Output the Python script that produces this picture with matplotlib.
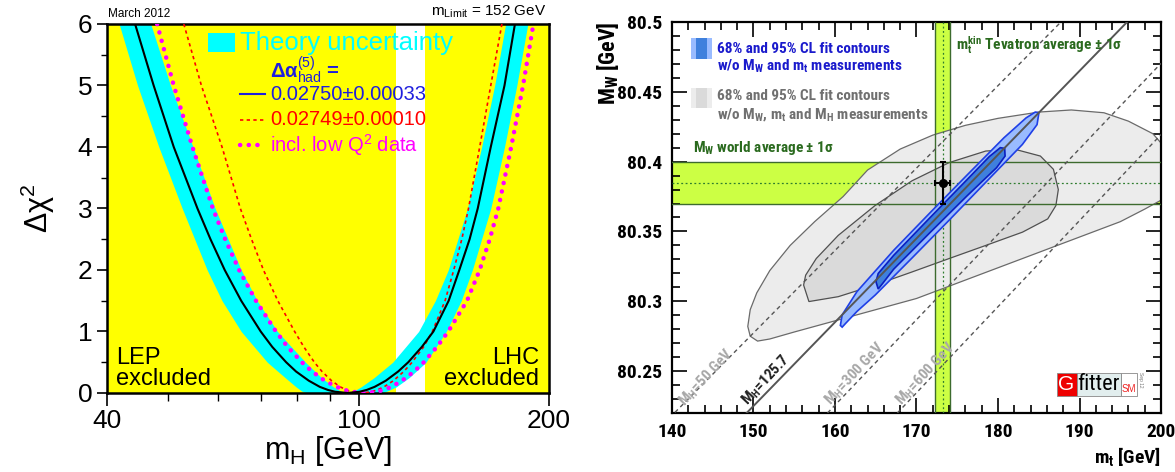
import matplotlib
matplotlib.use("Agg")
import numpy as np
import matplotlib.pyplot as plt
from matplotlib import font_manager
from matplotlib.patches import Polygon, Rectangle
from matplotlib.ticker import FixedLocator, FixedFormatter, NullFormatter

# ---------------- data: left panel (delta chi2 vs mH) ----------------
curve_levels = [0, 0.02, 0.05, 0.1, 0.2, 0.35, 0.5, 0.75, 1, 1.5, 2, 2.5, 3, 4, 5, 6]
central_left = [96.0, 91.8, 89.4, 86.8, 83.4, 79.6, 76.8, 73.0, 70.0, 65.2, 61.4, 58.3, 55.6, 51.0, 47.4, 44.3]
central_right = [96.0, 100.3, 103.0, 106.0, 110.4, 115.5, 119.8, 125.9, 131.3, 138.8, 144.3, 149.8, 154.3, 161.8, 170.1, 176.7]
red_left = [100.9, 97.5, 95.6, 93.5, 90.6, 87.5, 85.1, 81.9, 79.2, 74.5, 70.7, 67.7, 65.0, 60.8, 56.4, 52.9]
red_right = [100.9, 104.7, 107.0, 109.7, 113.5, 117.9, 121.5, 126.7, 130.8, 137.0, 141.4, 145.6, 149.2, 155.4, 161.8, 168.5]
magenta_left = [102.3, 97.7, 95.1, 92.3, 88.4, 84.4, 81.3, 77.2, 74.0, 68.8, 64.7, 61.5, 58.8, 54.6, 51.0, 48.0]
magenta_right = [102.3, 106.8, 109.5, 112.6, 117.1, 122.4, 126.8, 133.0, 138.6, 148.4, 155.4, 161.2, 166.3, 174.3, 182.0, 189.0]

band_levels = [0, 0.03, 0.1, 0.25, 0.5, 1, 1.5, 2, 3, 4, 5, 6]
band_left_outer = [83.0, 81.3, 79.6, 76.5, 71.7, 65.2, 60.8, 57.6, 52.6, 48.3, 44.7, 41.8]
band_left_inner = [96.0, 93.7, 91.2, 87.3, 82.4, 74.4, 69.1, 65.2, 59.3, 54.7, 50.4, 46.9]
band_right_inner = [96.0, 98.2, 100.9, 105.8, 113.2, 124.4, 132.2, 138.6, 148.6, 156.5, 164.1, 170.8]
band_right_outer = [108.7, 110.9, 114.7, 120.2, 127.8, 137.6, 145.3, 151.3, 161.8, 170.1, 177.9, 185.2]
lep_limit = 114.4
lhc_limit = 127.5

# ---------------- data: right panel (MW vs mt) ----------------
mt_avg, mt_err = 173.2, 0.9
mw_avg, mw_err = 80.385, 0.015

grey95_mt = [149.3, 149.6, 150.4, 152, 154.5, 157.5, 161, 164, 168, 172, 176, 180, 185, 189, 193,
             196, 199, 202, 202, 200.5, 198, 195, 190, 185, 180, 175, 170, 165, 160, 155, 152,
             150.5, 149.6]
grey95_mw = [80.282, 80.294, 80.306, 80.322, 80.340, 80.357, 80.375, 80.394, 80.409, 80.419,
             80.426, 80.431, 80.4355, 80.437, 80.435, 80.429, 80.420, 80.40, 80.385, 80.374,
             80.366, 80.357, 80.346, 80.335, 80.324, 80.313, 80.302, 80.294, 80.286, 80.278,
             80.273, 80.2715, 80.275]
grey68_mt = [156.15, 156.4, 157.7, 160.4, 164.9, 169.45, 174.0, 178.5, 182.1, 185.2, 186.8, 187.4,
             187.1, 186.1, 183.0, 178.5, 174.0, 169.45, 164.9, 160.4, 156.8]
grey68_mw = [80.3116, 80.3187, 80.3306, 80.3472, 80.3685, 80.3863, 80.3993, 80.4076, 80.4088,
             80.404, 80.3945, 80.380, 80.3685, 80.359, 80.3495, 80.340, 80.3306, 80.321, 80.3116,
             80.3033, 80.2998]
blue95_mt = [160.66, 160.88, 162.69, 167.20, 171.71, 176.22, 180.73, 183.44, 184.57, 185.02,
             184.79, 182.99, 178.48, 173.96, 169.45, 164.94, 162.69, 161.34, 160.88]
blue95_mw = [80.2827, 80.2903, 80.3069, 80.3365, 80.3637, 80.3905, 80.4171, 80.4313, 80.4355,
             80.4350, 80.4265, 80.4123, 80.3851, 80.3578, 80.3310, 80.3045, 80.2927, 80.2844, 80.2815]
blue68_mt = [165.03, 165.30, 167.20, 171.71, 176.22, 178.93, 180.28, 180.82, 180.87, 179.83,
             176.22, 171.71, 167.20, 165.85, 165.30]
blue68_mw = [80.3140, 80.3199, 80.3329, 80.3602, 80.3872, 80.4036, 80.4100, 80.4095, 80.4040,
             80.3957, 80.3756, 80.3495, 80.3230, 80.3128, 80.3088]

mh_labels = ["50 GeV", "125.7", "300 GeV", "600 GeV"]
mh_mt_start = [140.36, 149.16, 159.08, 167.65]
mh_mw_start = [80.2204, 80.22, 80.22, 80.22]
mh_mt_end = [187.72, 195.84, 200.0, 200.0]
mh_mw_end = [80.5, 80.5, 80.4704, 80.4194]
mh_label_mt = [144.2, 151.6, 162.5, 171.1]
mh_label_mw = [80.2455, 80.2433, 80.248, 80.248]

# ---------------- fonts ----------------
avail = {f.name for f in font_manager.fontManager.ttflist}
SANS = "Liberation Sans" if "Liberation Sans" in avail else "DejaVu Sans"
NARROW = SANS
for cand in ["Liberation Sans Narrow", "Roboto Condensed", "Open Sans Condensed"]:
    if cand in avail:
        NARROW = cand
        break
k = 1.0 if NARROW != SANS else 0.86   # shrink text when no condensed face exists

plt.rcParams["font.family"] = [SANS, "DejaVu Sans"]
plt.rcParams["mathtext.fontset"] = "custom"
plt.rcParams["mathtext.rm"] = SANS
plt.rcParams["mathtext.it"] = SANS + ":italic"
plt.rcParams["mathtext.bf"] = NARROW + ":bold"

fig = plt.figure(figsize=(11.75, 4.72), dpi=100)
ax1 = fig.add_axes([0.0911, 0.1674, 0.3761, 0.7818])
ax2 = fig.add_axes([0.5719, 0.1250, 0.4162, 0.8284])

# ================= left panel =================
ax1.set_xscale("log")
ax1.axvspan(40, lep_limit, color="#ffff00", lw=0, zorder=0)
ax1.axvspan(lhc_limit, 200, color="#ffff00", lw=0, zorder=0)
ax1.fill_betweenx(band_levels, band_left_outer, band_left_inner, color="#00ffff", lw=0, zorder=1)
ax1.fill_betweenx(band_levels, band_right_inner, band_right_outer, color="#00ffff", lw=0, zorder=1)


def branch(left, right):
    xs = list(reversed(left)) + right[1:]
    ys = list(reversed(curve_levels)) + curve_levels[1:]
    return xs, ys


x, y = branch(red_left, red_right)
ax1.plot(x, y, color="#ff0000", lw=1.2, ls=(0, (2, 2)), zorder=3)
x, y = branch(magenta_left, magenta_right)
ax1.plot(x, y, color="#ff00ff", lw=3.2, ls=(0, (0.05, 1.9)), dash_capstyle="round", zorder=3)
x, y = branch(central_left, central_right)
ax1.plot(x, y, color="black", lw=1.5, zorder=4)

ax1.set_xlim(40, 200)
ax1.set_ylim(0, 6)
ax1.xaxis.set_major_locator(FixedLocator([40, 100, 200]))
ax1.xaxis.set_minor_locator(FixedLocator([50, 60, 70, 80, 90]))
ax1.xaxis.set_major_formatter(FixedFormatter(["40", "100", "200"]))
ax1.xaxis.set_minor_formatter(NullFormatter())
ax1.yaxis.set_major_locator(FixedLocator([0, 1, 2, 3, 4, 5, 6]))
ax1.yaxis.set_minor_locator(FixedLocator([0.5, 1.5, 2.5, 3.5, 4.5, 5.5]))
ax1.tick_params(which="major", direction="out", labelsize=19, width=1.2)
ax1.tick_params(axis="x", which="major", length=9.5, pad=2)
ax1.tick_params(axis="x", which="minor", length=6, width=1.0)
ax1.tick_params(axis="y", which="major", length=7.5, pad=3)
ax1.tick_params(axis="y", which="minor", length=4, width=1.0)
for s in ax1.spines.values():
    s.set_linewidth(1.8)
ax1.set_xlabel("m$_{\\rm H}$ [GeV]", fontsize=22, labelpad=1)
ax1.set_ylabel("Δχ$^{2}$", fontsize=22, labelpad=15)

ax1.text(0.002, 1.012, "March 2012", transform=ax1.transAxes, fontsize=8.5, va="bottom", ha="left")
ax1.text(0.995, 1.012, "m$_{\\rm Limit}$ = 152 GeV", transform=ax1.transAxes, fontsize=11,
         va="bottom", ha="right")

ax1.add_patch(Rectangle((0.2285, 0.924), 0.061, 0.0515, transform=ax1.transAxes,
                        color="#00ffff", lw=0, zorder=5))
ax1.text(0.301, 0.9485, "Theory uncertainty", transform=ax1.transAxes, color="#00ffff",
         fontsize=18.5, va="center", ha="left", zorder=5)
ax1.text(0.369, 0.875, "Δα${}^{(5)}_{\\rm had}$ =", transform=ax1.transAxes, color="#1f1fdd",
         fontsize=14.5, fontweight="bold", va="center", ha="left", zorder=5)
ax1.plot([0.301, 0.357], [0.810, 0.810], transform=ax1.transAxes, color="#1f1fdd", lw=1.5,
         zorder=5)
ax1.text(0.369, 0.810, "0.02750±0.00033", transform=ax1.transAxes, color="#1f1fdd",
         fontsize=14.5, va="center", ha="left", zorder=5)
ax1.plot([0.301, 0.357], [0.740, 0.740], transform=ax1.transAxes, color="#ff0000", lw=1.2,
         ls=(0, (2, 2)), zorder=5)
ax1.text(0.369, 0.740, "0.02749±0.00010", transform=ax1.transAxes, color="#ff0000",
         fontsize=14.5, va="center", ha="left", zorder=5)
ax1.plot([0.301, 0.357], [0.672, 0.672], transform=ax1.transAxes, color="#ff00ff", lw=3.2,
         ls=(0, (0.05, 1.9)), dash_capstyle="round", zorder=5)
ax1.text(0.369, 0.672, "incl. low Q$^{2}$ data", transform=ax1.transAxes, color="#ff00ff",
         fontsize=14.5, va="center", ha="left", zorder=5)

ax1.text(0.021, 0.095, "LEP", transform=ax1.transAxes, fontsize=17, va="center", ha="left")
ax1.text(0.021, 0.037, "excluded", transform=ax1.transAxes, fontsize=17, va="center", ha="left")
ax1.text(0.977, 0.095, "LHC", transform=ax1.transAxes, fontsize=17, va="center", ha="right")
ax1.text(0.977, 0.037, "excluded", transform=ax1.transAxes, fontsize=17, va="center", ha="right")

# ================= right panel =================
lime = "#ccff44"
dkgreen = "#3d6b2e"
nf = [NARROW, "DejaVu Sans"]
ax2.axvspan(mt_avg - mt_err, mt_avg + mt_err, color=lime, lw=0, zorder=1)
ax2.axhspan(mw_avg - mw_err, mw_avg + mw_err, color=lime, lw=0, zorder=1)

ax2.add_patch(Polygon(np.column_stack([grey95_mt, grey95_mw]), closed=True, fc="#ececec",
                      ec="#6a6a6a", lw=0.9, zorder=2))
ax2.add_patch(Polygon(np.column_stack([grey68_mt, grey68_mw]), closed=True, fc="#dadada",
                      ec="#505050", lw=0.9, zorder=2.1))

for v in (mt_avg - mt_err, mt_avg + mt_err):
    ax2.axvline(v, color=dkgreen, lw=1.0, zorder=3)
for v in (mw_avg - mw_err, mw_avg + mw_err):
    ax2.axhline(v, color=dkgreen, lw=1.0, zorder=3)
ax2.axvline(mt_avg, color="#2e7d2e", lw=0.9, ls=(0, (1.5, 2)), zorder=3)
ax2.axhline(mw_avg, color="#2e7d2e", lw=0.9, ls=(0, (1.5, 2)), zorder=3)

ax2.add_patch(Polygon(np.column_stack([blue95_mt, blue95_mw]), closed=True, fc="#99bbff",
                      ec="#1f3fe6", lw=1.2, zorder=4))
ax2.add_patch(Polygon(np.column_stack([blue68_mt, blue68_mw]), closed=True, fc="#3f80dd",
                      ec="#0a1fc0", lw=1.2, zorder=4.1))

for i in range(len(mh_labels)):
    xs = [mh_mt_start[i], mh_mt_end[i]]
    ys = [mh_mw_start[i], mh_mw_end[i]]
    if mh_labels[i] == "125.7":
        ax2.plot(xs, ys, color="#555555", lw=1.4, zorder=5)
        col = "#222222"
    else:
        ax2.plot(xs, ys, color="#555555", lw=1.0, ls=(0, (3, 2.5)), zorder=5)
        col = "#a8a8a8"
    ax2.text(mh_label_mt[i], mh_label_mw[i], "M$_{\\mathbf{H}}$=" + mh_labels[i], color=col,
             fontsize=11 * k, family=nf, fontweight="bold", rotation=47,
             ha="center", va="center", zorder=6)

ax2.errorbar([mt_avg], [mw_avg], xerr=[mt_err], yerr=[mw_err], fmt="o", color="black",
             ms=5.5, lw=1.5, capsize=2.5, capthick=1.5, zorder=7)

ax2.set_xlim(140, 200)
ax2.set_ylim(80.22, 80.5)
ax2.xaxis.set_major_locator(FixedLocator([140, 150, 160, 170, 180, 190, 200]))
ax2.xaxis.set_minor_locator(FixedLocator(np.arange(140, 201, 2)))
ax2.yaxis.set_major_locator(FixedLocator([80.25, 80.3, 80.35, 80.4, 80.45, 80.5]))
ax2.yaxis.set_minor_locator(FixedLocator(np.arange(80.22, 80.501, 0.01)))
ax2.yaxis.set_major_formatter(FixedFormatter(["80.25", "80.3", "80.35", "80.4", "80.45", "80.5"]))
ax2.tick_params(which="both", direction="in", top=True, right=True, width=1.2)
ax2.tick_params(which="major", length=11, labelsize=14 * k, pad=7)
ax2.tick_params(which="minor", length=5.5)
for lab in ax2.get_xticklabels() + ax2.get_yticklabels():
    lab.set_fontweight("bold")
    lab.set_family(nf)
for s in ax2.spines.values():
    s.set_linewidth(1.6)
ax2.text(1.0, -0.083, "m$_{\\mathbf{t}}$ [GeV]", transform=ax2.transAxes, fontsize=14 * k,
         fontweight="bold", family=nf, ha="right", va="top")
ax2.text(-0.13, 1.0, "M$_{\\mathbf{W}}$ [GeV]", transform=ax2.transAxes, fontsize=16 * k,
         fontweight="bold", family=nf, ha="center", va="top", rotation=90)

tkw = dict(transform=ax2.transAxes, family=nf, fontweight="bold",
           fontsize=11 * k, va="center", ha="left", zorder=8)
ax2.add_patch(Rectangle((0.0399, 0.9054), 0.0413, 0.0524, transform=ax2.transAxes,
                        fc="#99bbff", lw=0, zorder=8))
ax2.add_patch(Rectangle((0.0500, 0.9054), 0.0210, 0.0524, transform=ax2.transAxes,
                        fc="#3f80dd", lw=0, zorder=8))
ax2.text(0.0924, 0.9322, "68% and 95% CL fit contours", color="#1a1acc", **tkw)
ax2.text(0.0924, 0.8875, "w/o M$_{\\mathbf{W}}$ and m$_{\\mathbf{t}}$ measurements",
         color="#1a1acc", **tkw)
ax2.add_patch(Rectangle((0.0399, 0.780), 0.0413, 0.051, transform=ax2.transAxes,
                        fc="#ececec", lw=0, zorder=8))
ax2.add_patch(Rectangle((0.0500, 0.780), 0.0210, 0.051, transform=ax2.transAxes,
                        fc="#dadada", lw=0, zorder=8))
ax2.text(0.0924, 0.8095, "68% and 95% CL fit contours", color="#707070", **tkw)
ax2.text(0.0924, 0.763, "w/o M$_{\\mathbf{W}}$, m$_{\\mathbf{t}}$ and M$_{\\mathbf{H}}$ measurements",
         color="#707070", **tkw)
ax2.text(0.043, 0.6765, "M$_{\\mathbf{W}}$ world average ± 1σ", color="#2a6a1e", **tkw)
ax2.text(0.581, 0.941, "m$_{\\mathbf{t}}^{\\mathbf{kin}}$ Tevatron average ± 1σ",
         color="#2a6a1e", **tkw)

# Gfitter logo
lkw = dict(transform=ax2.transAxes, zorder=9)
ax2.add_patch(Rectangle((0.7865, 0.0435), 0.0407, 0.0588, fc="#ee0000", ec="#888888", lw=0.6, **lkw))
ax2.add_patch(Rectangle((0.8272, 0.0435), 0.0910, 0.0588, fc="#e2eeee", ec="#888888", lw=0.6, **lkw))
ax2.add_patch(Rectangle((0.9182, 0.0435), 0.0335, 0.0588, fc="white", ec="#888888", lw=0.6, **lkw))
ax2.text(0.8068, 0.073, "G", color="white", fontsize=15, ha="center", va="center", **lkw)
ax2.text(0.8727, 0.073, "fitter", color="black", fontsize=16 * k, ha="center", va="center",
         family=nf, **lkw)
ax2.text(0.9350, 0.062, "SM", color="#ee2222", fontsize=7, ha="center", va="center", **lkw)
ax2.text(0.958, 0.085, "Sep 12", color="#777777", fontsize=3.5, rotation=-90, ha="center",
         va="center", **lkw)

fig.savefig("out.png", dpi=100)
